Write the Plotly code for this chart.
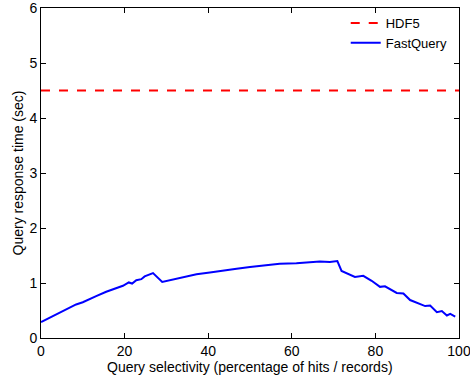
import plotly.graph_objects as go

# Data
hdf5_x = [0, 100]
hdf5_y = [4.5, 4.5]

fq_x = [0, 0.8, 2, 3.6, 4.8, 5.6, 6.8, 8.4, 10, 11.6, 13.2, 15.6, 18, 19.6, 21, 21.8,
        22.8, 24, 24.8, 26.8, 29, 30.8, 34, 37.2, 40.4, 43.6, 46.8, 50, 53.1, 57.1,
        61.1, 66.7, 69.1, 70.9, 71.9, 73.5, 75.1, 77.1, 79.1, 81.1, 82.3, 85.1, 86.7,
        88.3, 89.9, 91.9, 93.1, 94.7, 95.9, 97.1, 97.9, 99.1]
fq_y = [0.29, 0.32, 0.38, 0.43, 0.47, 0.50, 0.56, 0.61, 0.65, 0.71, 0.76, 0.84, 0.90, 0.95,
        1.01, 0.99, 1.05, 1.07, 1.12, 1.18, 1.02, 1.05, 1.10, 1.16, 1.19, 1.23, 1.26, 1.29,
        1.32, 1.35, 1.36, 1.39, 1.38, 1.40, 1.22, 1.17, 1.11, 1.13, 1.04, 0.93, 0.94, 0.82,
        0.81, 0.69, 0.64, 0.58, 0.59, 0.47, 0.49, 0.41, 0.44, 0.39]

x_ticks = [0, 20, 40, 60, 80, 100]
y_ticks = [0, 1, 2, 3, 4, 5, 6]
x_title = "Query selectivity (percentage of hits / records)"
y_title = "Query response time (sec)"

font = "Liberation Sans, Arial, Helvetica, sans-serif"

fig = go.Figure()
fig.add_trace(go.Scatter(x=hdf5_x, y=hdf5_y, mode="lines", name="HDF5",
                         line=dict(color="#ff0000", width=2, dash="dash")))
fig.add_trace(go.Scatter(x=fq_x, y=fq_y, mode="lines", name="FastQuery",
                         line=dict(color="#0000ff", width=2)))

axis_common = dict(showgrid=False, zeroline=False, showline=True, linecolor="black",
                   linewidth=1, mirror="ticks", ticks="inside", ticklen=5,
                   tickcolor="black", automargin=False, ticklabeloverflow="allow",
                   tickfont=dict(family=font, size=14, color="black"))

fig.update_layout(
    width=470, height=375,
    margin=dict(l=41, r=11, t=8, b=37),
    paper_bgcolor="white", plot_bgcolor="white",
    font=dict(family=font, size=14, color="black"),
    showlegend=True,
    legend=dict(x=0.985, y=1.0, xanchor="right", yanchor="top",
                bgcolor="rgba(0,0,0,0)", borderwidth=0,
                font=dict(family=font, size=13, color="black"),
                tracegroupgap=0, itemwidth=30),
    xaxis=dict(range=[0, 100], tickvals=x_ticks, **axis_common),
    yaxis=dict(range=[0, 6], tickvals=y_ticks,
               title=dict(text=y_title, font=dict(family=font, size=14), standoff=2),
               **axis_common),
    annotations=[dict(text=x_title, xref="paper", yref="paper", x=0.5, y=-0.087,
                      xanchor="center", yanchor="middle", showarrow=False,
                      font=dict(family=font, size=14, color="black"))],
)

fig.write_html("out.html", config={"displayModeBar": False},
               post_script="document.body.style.margin='0';")
